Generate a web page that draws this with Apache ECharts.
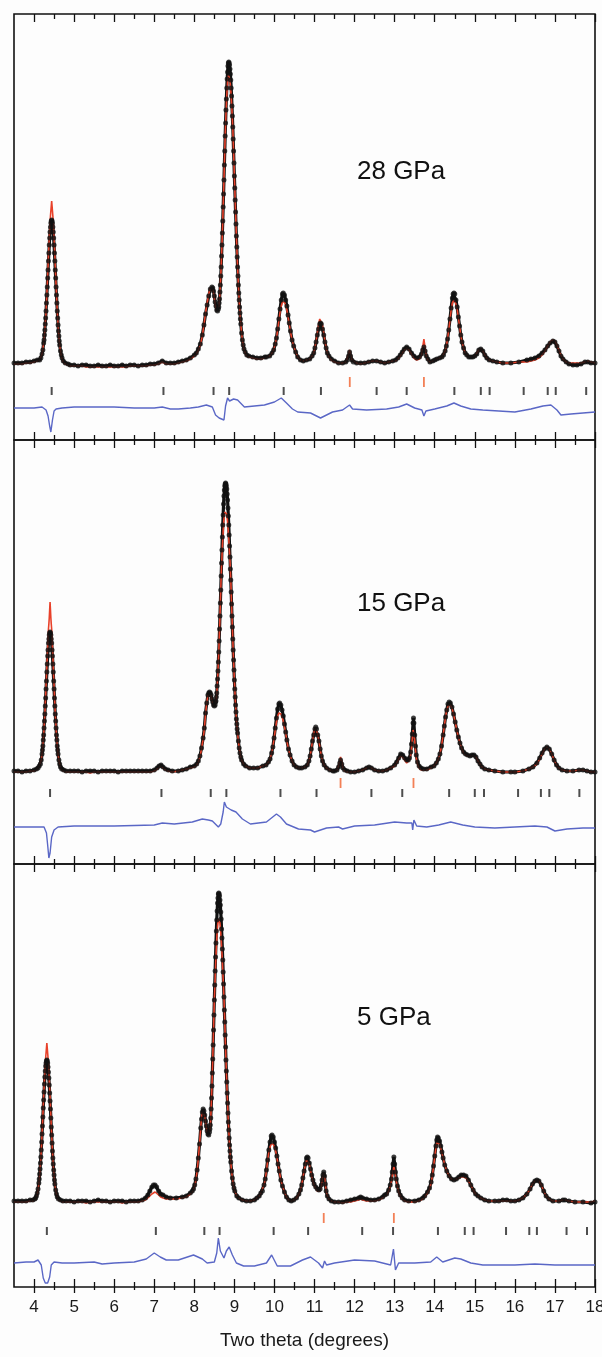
<!DOCTYPE html>
<html><head><meta charset="utf-8">
<script src="https://cdn.jsdelivr.net/npm/echarts@6/dist/echarts.min.js"></script>
<style>html,body{margin:0;padding:0;background:#fdfdfd}#c{width:602px;height:1357px}</style>
</head><body><div id="c"></div>
<script>
// ---- data: [two theta, observed, calculated] ----
const prof28 = [
[3.50,0,-1],[3.60,0,-1],[3.70,0,-1],[3.80,1,0],[3.90,1,0],[4.00,2,1],[4.08,3,2],[4.14,3,3],[4.17,5,5],[4.20,9,9],[4.22,13,13],[4.24,20,20],[4.25,23,23],[4.26,28,28],[4.27,33,33],[4.28,39,39],[4.29,45,45],[4.30,52,52],[4.31,60,60],[4.32,68,69],[4.33,76,78],[4.34,85,88],[4.35,93,97],[4.36,102,107],[4.37,110,116],[4.38,118,125],[4.39,125,133],[4.40,131,141],[4.41,136,147],[4.42,140,152],[4.43,142,157],[4.44,143,162],[4.45,142,157],[4.46,140,152],[4.47,136,147],[4.48,131,141],[4.49,125,133],[4.50,118,125],[4.51,110,116],[4.52,102,107],[4.53,93,97],[4.54,85,88],[4.55,76,78],[4.56,68,69],[4.57,60,60],[4.58,52,52],[4.59,45,45],[4.60,38,38],[4.61,32,32],[4.62,27,27],[4.63,22,22],[4.64,18,18],[4.66,12,12],[4.68,8,7],[4.70,5,4],[4.73,2,1],[4.78,0,-1],[4.85,-1,-2],
[4.9,-2,-3],[5.0,-2,-3],[5.1,-3,-3],[5.2,-2,-3],[5.3,-2,-4],[5.4,-3,-4],[5.5,-3,-4],[5.6,-2,-4],[5.7,-3,-4],[5.8,-3,-4],[5.9,-2,-4],[6.0,-3,-4],[6.1,-3,-4],[6.2,-2,-4],[6.3,-3,-4],[6.4,-2,-3],[6.5,-2,-3],[6.6,-3,-3],[6.7,-2,-3],[6.8,-2,-3],[6.9,-1,-2],[7.0,-1,-2],[7.1,0,-1],[7.2,2,1],[7.3,0,-1],[7.4,0,-1],[7.5,0,-1],
[7.60,1,0],[7.70,2,1],[7.80,3,2],[7.90,5,4],[8.00,8,7],[8.05,10,9],[8.10,14,13],[8.15,19,18],[8.20,28,27],[8.24,38,38],[8.28,49,50],[8.32,58,60],[8.36,67,69],[8.40,74,75],[8.44,76,76],[8.46,75,74],[8.48,72,71],[8.50,67,65],[8.52,61,59],[8.54,57,55],[8.56,53,52],[8.58,52,51],[8.60,54,53],[8.61,56,56],[8.62,60,60],[8.63,64,64],[8.64,71,71],[8.65,78,78],[8.66,87,87],[8.67,96,96],[8.68,107,107],[8.69,118,118],[8.70,130,130],[8.71,142,142],[8.72,156,156],[8.73,169,169],[8.74,183,183],[8.75,198,198],[8.76,212,212],[8.77,227,226],[8.78,240,238],[8.79,253,249],[8.80,264,258],[8.81,275,267],[8.82,284,274],[8.83,291,281],[8.84,297,285],[8.85,300,287],[8.86,301,288],[8.87,300,287],[8.88,298,286],[8.89,294,282],[8.90,289,278],[8.91,283,273],[8.92,275,267],[8.93,267,260],[8.94,257,252],[8.95,247,244],[8.96,236,235],[8.97,224,224],[8.98,212,212],[8.99,200,200],[9.00,187,187],[9.01,175,175],[9.02,163,163],[9.03,151,151],[9.04,139,139],[9.05,127,127],[9.06,116,116],[9.07,106,106],[9.08,96,96],[9.09,87,87],[9.10,78,78],[9.11,70,70],[9.12,63,63],[9.13,56,56],[9.14,50,50],[9.15,44,44],[9.16,39,39],[9.18,30,30],[9.20,23,23],[9.22,18,18],[9.24,14,14],[9.27,11,10],[9.31,8,7],[9.36,7,6],[9.46,6,5],[9.56,5,4],[9.66,5,4],[9.76,6,5],
[9.80,6,6],[9.88,7,7],[9.94,10,10],[9.98,13,13],[10.02,19,19],[10.05,25,25],[10.08,34,33],[10.11,44,42],[10.14,54,51],[10.17,63,57],[10.20,69,61],[10.22,70,62],[10.25,68,61],[10.28,63,58],[10.31,57,53],[10.34,48,46],[10.37,40,39],[10.40,32,31],[10.44,23,23],[10.48,17,17],[10.53,11,11],[10.58,6,6],[10.65,3,3],[10.72,2,2],[10.80,3,3],
[10.88,4,4],[10.94,7,7],[10.98,10,10],[11.01,15,15],[11.04,21,22],[11.07,28,30],[11.10,34,38],[11.13,39,44],[11.15,40,46],[11.17,39,44],[11.20,34,38],[11.23,28,30],[11.26,21,22],[11.29,15,15],[11.32,10,10],[11.36,7,6],[11.42,4,3],[11.50,2,1],[11.60,0,0],[11.70,0,0],[11.78,1,1],[11.82,3,3],[11.85,7,8],[11.875,11,13],[11.90,7,8],[11.93,3,3],[11.97,1,1],[12.05,0,0],[12.15,0,-1],[12.25,0,0],[12.35,1,1],[12.45,2,2],[12.55,2,2],[12.65,1,1],[12.75,0,0],[12.85,1,1],[12.95,2,2],
[13.02,3,2],[13.08,5,4],[13.14,8,7],[13.19,11,10],[13.24,14,13],[13.30,16,15],[13.36,14,13],[13.42,10,9],[13.48,7,5],[13.55,5,3],[13.62,6,4],[13.67,9,8],[13.70,13,16],[13.73,16,24],[13.76,12,15],[13.79,7,7],[13.83,4,3],[13.88,1,1],[13.95,2,2],[14.00,3,3],
[14.05,4,4],[14.12,5,5],[14.18,6,6],[14.22,8,8],[14.26,12,12],[14.29,17,17],[14.32,24,24],[14.35,33,33],[14.38,44,43],[14.41,55,53],[14.44,65,60],[14.46,69,62],[14.48,70,63],[14.50,69,62],[14.53,63,59],[14.56,56,54],[14.59,46,45],[14.62,37,37],[14.65,28,28],[14.68,21,21],[14.72,15,15],[14.76,10,10],[14.80,8,8],[14.85,6,6],[14.90,6,6],[14.95,6,6],[15.00,7,7],[15.05,9,10],[15.10,13,13],[15.15,14,14],[15.20,12,12],[15.25,8,8],[15.30,5,5],[15.36,3,3],[15.45,2,2],[15.55,1,1],[15.70,0,0],[15.90,0,0],[16.10,1,1],[16.30,3,1],
[16.40,4,2],[16.50,5,3],[16.60,7,5],[16.68,10,8],[16.75,13,12],[16.82,17,17],[16.88,20,21],[16.95,22,23],[17.00,21,22],[17.05,17,18],[17.10,12,13],[17.15,7,8],[17.20,4,4],[17.28,1,1],[17.35,-1,0],[17.45,-2,0],[17.55,-2,0],[17.65,-1,0],[17.75,1,1],[17.82,1,2],[17.90,0,1],[18.00,0,0]
];
const prof15 = [
[3.50,1,0],[3.60,1,0],[3.70,0,0],[3.80,1,0],[3.90,1,1],[4.00,2,1],[4.06,3,2],[4.10,4,4],[4.13,6,6],[4.16,8,8],[4.18,12,12],[4.20,18,18],[4.21,22,22],[4.22,26,26],[4.23,32,32],[4.24,37,37],[4.25,44,44],[4.26,51,51],[4.27,58,58],[4.28,66,67],[4.29,74,76],[4.30,83,87],[4.31,91,95],[4.32,100,106],[4.33,108,115],[4.34,116,125],[4.35,122,133],[4.36,129,143],[4.37,133,148],[4.38,137,154],[4.39,139,162],[4.40,140,170],[4.41,139,162],[4.42,137,154],[4.43,133,148],[4.44,129,143],[4.45,122,133],[4.46,116,125],[4.47,108,115],[4.48,100,106],[4.49,91,95],[4.50,83,87],[4.51,74,76],[4.52,66,67],[4.53,58,58],[4.54,51,51],[4.55,44,44],[4.56,37,37],[4.57,32,32],[4.58,26,26],[4.59,22,22],[4.60,18,18],[4.62,12,12],[4.64,8,8],[4.66,5,5],[4.69,3,2],[4.74,2,1],[4.80,1,0],
[4.9,1,0],[5.0,1,0],[5.1,1,0],[5.2,0,0],[5.3,1,0],[5.4,1,-1],[5.5,1,0],[5.6,0,0],[5.7,1,0],[5.8,1,0],[5.9,1,0],[6.0,1,0],[6.1,0,0],[6.2,1,0],[6.3,1,0],[6.4,1,0],[6.5,1,0],[6.6,1,0],[6.7,1,0],[6.8,1,0],[6.9,1,0],[7.00,2,1],[7.07,4,3],[7.12,6,5],[7.17,7,6],[7.22,5,4],[7.28,3,2],[7.35,2,1],[7.45,1,0],[7.60,1,1],[7.70,2,2],[7.80,3,3],
[7.90,5,4],[8.00,6,5],[8.06,8,7],[8.10,11,10],[8.14,16,15],[8.18,24,23],[8.22,34,33],[8.25,44,43],[8.28,59,58],[8.31,69,69],[8.34,77,77],[8.36,79,79],[8.38,80,80],[8.40,79,78],[8.42,77,76],[8.44,73,72],[8.46,70,69],[8.48,67,66],[8.50,66,64],[8.52,67,65],[8.53,70,68],[8.54,71,70],[8.55,75,74],[8.56,79,78],[8.57,86,85],[8.58,93,92],[8.59,101,100],[8.60,110,110],[8.61,120,120],[8.62,131,131],[8.63,143,143],[8.64,156,156],[8.65,169,169],[8.66,182,182],[8.67,196,196],[8.68,209,206],[8.69,222,215],[8.70,235,225],[8.71,247,233],[8.72,257,240],[8.73,268,248],[8.74,276,253],[8.75,282,257],[8.76,286,260],[8.77,288,261],[8.78,289,262],[8.79,288,262],[8.80,286,261],[8.81,283,258],[8.82,278,255],[8.83,272,250],[8.84,264,245],[8.85,256,239],[8.86,247,233],[8.87,237,226],[8.88,226,218],[8.89,215,211],[8.90,203,202],[8.91,192,192],[8.92,180,180],[8.93,168,168],[8.94,156,156],[8.95,145,145],[8.96,133,133],[8.97,122,122],[8.98,112,112],[8.99,102,102],[9.00,92,92],[9.01,83,83],[9.02,75,75],[9.03,67,67],[9.04,60,60],[9.05,53,53],[9.06,48,48],[9.07,43,43],[9.08,39,39],[9.10,31,31],[9.12,24,24],[9.14,19,19],[9.16,15,15],[9.18,12,12],[9.23,8,8],[9.28,6,6],[9.38,4,4],[9.48,4,4],[9.58,4,4],
[9.71,6,6],[9.79,7,7],[9.85,10,10],[9.89,13,13],[9.93,19,19],[9.96,25,25],[9.99,34,33],[10.02,44,42],[10.05,54,50],[10.08,63,56],[10.11,68,59],[10.13,69,59],[10.16,67,58],[10.19,62,55],[10.22,56,51],[10.25,48,45],[10.28,40,39],[10.31,32,31],[10.35,23,23],[10.39,17,17],[10.44,11,11],[10.49,7,7],[10.55,5,5],[10.62,4,4],
[10.68,4,4],[10.76,5,5],[10.82,7,7],[10.86,11,11],[10.89,16,16],[10.92,23,23],[10.95,31,31],[10.98,37,38],[11.01,43,45],[11.03,45,47],[11.05,43,45],[11.08,37,38],[11.11,31,31],[11.14,23,23],[11.17,16,16],[11.20,11,11],[11.24,7,7],[11.30,4,4],[11.38,2,2],[11.46,1,1],
[11.50,1,1],[11.56,2,2],[11.60,5,6],[11.63,9,11],[11.65,12,15],[11.68,8,10],[11.71,4,4],[11.75,2,1],[11.82,1,0],[11.90,0,0],[12.00,0,0],[12.10,1,1],[12.20,2,2],[12.30,4,4],[12.36,5,5],[12.42,4,4],[12.50,2,2],[12.60,1,1],[12.70,1,1],[12.80,2,2],[12.90,4,4],
[13.00,7,6],[13.05,10,9],[13.10,14,13],[13.15,18,16],[13.20,17,15],[13.25,14,12],[13.30,12,9],[13.34,12,9],[13.37,14,12],[13.40,20,17],[13.42,28,24],[13.44,38,33],[13.46,49,42],[13.47,54,44],[13.48,49,41],[13.50,37,32],[13.52,26,22],[13.54,17,14],[13.57,10,8],[13.61,6,4],[13.66,4,2],[13.72,3,2],[13.80,3,2],
[13.91,5,4],[13.98,6,6],[14.04,9,9],[14.09,13,13],[14.13,18,18],[14.17,26,26],[14.21,37,37],[14.24,46,46],[14.27,55,55],[14.30,62,62],[14.33,68,66],[14.36,70,68],[14.39,69,67],[14.43,65,64],[14.47,58,58],[14.51,50,50],[14.55,42,42],[14.59,35,35],[14.63,29,29],[14.67,24,24],[14.72,20,19],[14.77,18,17],[14.82,17,16],[14.88,16,16],[14.93,17,16],[14.98,17,16],[15.03,15,15],[15.08,11,11],[15.13,8,8],[15.18,5,5],[15.25,3,3],[15.35,2,2],[15.50,1,1],[15.70,0,0],[15.90,0,0],
[16.00,0,0],[16.20,1,1],[16.35,3,3],[16.45,5,5],[16.55,9,8],[16.62,14,13],[16.68,19,18],[16.74,23,23],[16.80,25,25],[16.86,23,23],[16.92,18,18],[16.98,12,12],[17.04,7,7],[17.10,4,4],[17.18,2,2],[17.30,1,1],[17.45,1,1],[17.60,2,2],[17.70,2,2],[17.80,1,1],[17.90,0,0],[18.00,0,0]
];
const prof5 = [
[3.50,1,0],[3.60,1,0],[3.70,1,0],[3.80,1,0],[3.90,2,1],[3.97,2,1],[4.02,3,2],[4.04,4,3],[4.06,6,5],[4.08,9,8],[4.10,13,12],[4.12,19,18],[4.13,23,22],[4.14,28,27],[4.15,33,32],[4.16,39,38],[4.17,45,44],[4.18,52,51],[4.19,60,59],[4.20,68,68],[4.21,76,76],[4.22,85,86],[4.23,94,95],[4.24,102,105],[4.25,110,113],[4.26,118,122],[4.27,125,130],[4.28,131,138],[4.29,136,144],[4.30,139,149],[4.31,141,154],[4.32,142,159],[4.33,141,154],[4.34,139,149],[4.35,135,144],[4.36,130,138],[4.37,124,130],[4.38,117,122],[4.39,109,113],[4.40,101,105],[4.41,93,95],[4.42,84,86],[4.43,75,76],[4.44,67,68],[4.45,59,59],[4.46,51,51],[4.47,44,44],[4.48,38,38],[4.49,32,32],[4.50,27,27],[4.51,22,22],[4.52,18,18],[4.54,12,12],[4.56,8,8],[4.58,5,5],[4.61,3,2],[4.66,2,1],[4.72,1,0],
[4.8,1,0],[4.9,1,0],[5.0,0,0],[5.1,1,0],[5.2,1,0],[5.3,1,-1],[5.4,0,0],[5.5,1,0],[5.6,2,0],[5.7,1,0],[5.8,1,0],[5.9,0,0],[6.0,1,0],[6.1,1,0],[6.2,1,-1],[6.3,0,0],[6.4,1,0],[6.5,1,0],
[6.60,1,0],[6.70,2,1],[6.78,4,2],[6.84,7,4],[6.89,11,6],[6.94,15,8],[6.98,17,10],[7.02,17,10],[7.06,15,9],[7.11,11,7],[7.16,8,5],[7.22,7,4],[7.30,5,3],[7.40,4,3],[7.55,4,3],[7.70,5,4],[7.80,6,5],
[7.90,9,8],[7.95,11,10],[7.98,13,12],[8.01,17,16],[8.04,23,22],[8.07,32,31],[8.10,44,43],[8.13,58,58],[8.16,74,74],[8.18,83,84],[8.20,90,90],[8.22,93,92],[8.24,91,90],[8.26,87,86],[8.28,81,80],[8.30,76,75],[8.32,71,70],[8.34,68,67],[8.36,67,66],[8.38,70,69],[8.39,73,72],[8.40,77,76],[8.41,84,84],[8.42,93,93],[8.43,104,104],[8.44,116,116],[8.45,129,129],[8.46,143,143],[8.47,157,157],[8.48,172,172],[8.49,187,187],[8.50,202,202],[8.51,217,213],[8.52,231,224],[8.53,245,235],[8.54,259,245],[8.55,271,255],[8.56,282,263],[8.57,291,270],[8.58,299,276],[8.59,304,280],[8.60,308,283],[8.61,309,284],[8.62,308,283],[8.63,306,282],[8.64,302,279],[8.65,297,275],[8.66,290,269],[8.67,283,264],[8.68,273,256],[8.69,264,249],[8.70,253,241],[8.71,242,232],[8.72,230,223],[8.73,218,214],[8.74,205,204],[8.75,192,192],[8.76,180,180],[8.77,167,167],[8.78,155,155],[8.79,142,142],[8.80,131,131],[8.81,120,120],[8.82,109,109],[8.83,99,99],[8.84,89,89],[8.85,80,80],[8.86,72,72],[8.87,64,64],[8.88,57,57],[8.89,51,51],[8.90,45,45],[8.91,40,40],[8.93,31,31],[8.95,24,24],[8.97,18,18],[8.99,14,14],[9.01,11,11],[9.06,6,6],[9.11,4,4],[9.20,2,2],[9.30,1,1],[9.40,1,1],[9.50,2,2],
[9.56,4,4],[9.62,6,6],[9.66,9,9],[9.70,11,11],[9.74,17,17],[9.77,23,23],[9.80,32,31],[9.83,42,41],[9.86,52,50],[9.89,60,55],[9.92,66,58],[9.94,67,59],[9.97,65,58],[10.00,60,55],[10.03,54,51],[10.06,46,45],[10.09,38,38],[10.12,31,31],[10.16,22,22],[10.20,16,16],[10.25,10,10],[10.30,5,5],[10.36,2,2],[10.42,1,1],
[10.48,2,2],[10.55,4,4],[10.61,8,8],[10.65,12,12],[10.68,17,17],[10.71,24,24],[10.74,31,31],[10.77,38,37],[10.80,44,42],[10.82,45,43],[10.84,44,42],[10.87,39,38],[10.90,33,32],[10.93,27,26],[10.96,22,21],[10.99,18,17],[11.03,15,14],[11.07,13,11],[11.11,12,10],[11.14,13,11],[11.17,17,16],[11.19,22,21],[11.21,27,26],[11.23,30,29],[11.25,26,25],[11.27,18,18],[11.29,11,11],[11.32,6,6],[11.36,3,3],[11.42,1,1],[11.50,0,0],
[11.60,0,0],[11.70,0,-1],[11.80,1,0],[11.90,2,0],[12.00,3,1],[12.10,4,2],[12.15,5,3],[12.20,4,2],[12.30,3,1],[12.40,2,1],[12.50,2,1],[12.60,3,2],[12.70,5,4],[12.75,7,6],
[12.80,8,7],[12.85,12,11],[12.89,17,16],[12.92,23,21],[12.94,30,26],[12.96,38,31],[12.98,45,35],[13.00,38,32],[13.02,30,27],[13.04,23,21],[13.07,16,15],[13.10,11,10],[13.14,7,6],[13.19,4,3],[13.25,2,1],[13.35,1,0],[13.50,1,0],[13.60,2,1],[13.70,4,3],
[13.75,6,5],[13.82,10,9],[13.87,14,13],[13.91,20,19],[13.94,27,26],[13.97,36,35],[14.00,46,45],[14.03,56,54],[14.05,62,59],[14.07,65,60],[14.09,64,60],[14.12,61,58],[14.15,56,54],[14.18,50,49],[14.21,44,44],[14.25,37,37],[14.30,31,31],[14.36,26,26],[14.42,23,23],[14.48,22,22],[14.54,23,23],[14.60,25,24],[14.66,27,25],[14.72,27,25],[14.78,26,24],[14.84,22,21],[14.90,17,17],[14.96,12,12],[15.02,8,8],[15.08,6,6],[15.15,4,4],[15.25,2,2],[15.35,1,1],[15.50,1,1],
[15.60,1,1],[15.70,2,1],[15.80,2,1],[15.90,1,1],[16.00,1,1],[16.10,2,2],[16.20,4,4],[16.30,8,8],[16.38,13,13],[16.44,18,18],[16.50,21,21],[16.55,22,22],[16.60,21,21],[16.66,17,17],[16.72,11,11],[16.78,6,6],[16.85,3,3],[16.95,1,1],[17.10,1,1],[17.20,2,2],[17.25,2,2],[17.35,1,1],[17.50,0,0],[17.70,0,0],[17.90,-1,0],[18.00,0,1]
];
// difference curves (obs - calc)
const diff28 = [[3.5,2],[4.0,2],[4.2,3],[4.3,0],[4.35,-6],[4.39,-16],[4.42,-22],[4.46,-10],[4.50,-1],[4.55,1],[4.7,2],[5.0,3],[5.5,3],[6.0,3],[6.5,2],[7.0,2],[7.2,3],[7.4,1],[7.6,1],[7.9,2],[8.1,3],[8.3,5],[8.45,3],[8.53,-5],[8.62,-8],[8.74,-10],[8.78,4],[8.83,12],[8.88,9],[8.92,8],[8.98,11],[9.08,10],[9.25,3],[9.5,4],[9.75,5],[10.0,8],[10.17,12],[10.3,7],[10.45,1],[10.58,-2],[10.9,-3],[11.0,-5],[11.15,-8],[11.3,-5],[11.45,-2],[11.7,0],[11.875,5],[11.95,1],[12.3,0],[12.8,1],[13.1,3],[13.3,6],[13.5,2],[13.68,0],[13.73,-6],[13.78,-1],[14.0,1],[14.3,4],[14.48,7],[14.65,4],[14.9,1],[15.2,0],[15.6,-1],[16.0,-2],[16.4,1],[16.7,4],[16.9,5],[17.05,0],[17.15,-5],[17.4,-4],[17.7,-3],[18.0,-2]];
const diff15 = [[3.5,0],[4.0,0],[4.25,0],[4.31,-6],[4.34,-18],[4.37,-31],[4.40,-26],[4.44,-10],[4.50,-3],[4.6,0],[5.0,1],[6.0,1],[7.0,2],[7.2,4],[7.5,3],[7.95,5],[8.2,8],[8.35,7],[8.45,6],[8.6,0],[8.66,3],[8.72,15],[8.75,25],[8.8,20],[8.92,17],[9.04,15],[9.2,8],[9.4,3],[9.8,5],[10.05,13],[10.15,10],[10.3,3],[10.6,-2],[10.9,-3],[11.0,-5],[11.15,-3],[11.3,-1],[11.6,0],[11.7,-2],[12.0,1],[12.5,2],[13.0,5],[13.3,4],[13.43,4],[13.45,-3],[13.48,7],[13.55,1],[13.8,0],[14.1,2],[14.4,5],[14.7,2],[15.0,0],[15.5,-1],[16.0,0],[16.5,1],[16.8,0],[17.0,-4],[17.3,-2],[17.7,-1],[18.0,-1]];
const diff5 = [[3.5,0],[3.8,1],[4.0,1],[4.1,3],[4.18,-2],[4.23,-15],[4.28,-20],[4.34,-20],[4.39,-14],[4.43,-2],[4.5,1],[4.7,0],[5.0,0],[5.5,1],[5.7,-1],[6.0,0],[6.5,1],[6.8,4],[7.0,10],[7.15,6],[7.3,3],[7.6,3],[7.98,8],[8.2,4],[8.32,0],[8.5,1],[8.56,10],[8.6,25],[8.65,12],[8.74,5],[8.8,12],[8.87,16],[8.95,8],[9.05,0],[9.23,-3],[9.5,-3],[9.8,0],[9.93,8],[10.07,-3],[10.4,-3],[10.7,3],[10.9,6],[11.1,0],[11.2,-5],[11.25,2],[11.3,-2],[11.5,0],[12.0,3],[12.5,2],[12.9,-2],[12.97,14],[13.02,-7],[13.1,0],[13.5,0],[13.9,1],[14.05,6],[14.2,1],[14.5,5],[14.65,4],[14.9,0],[15.2,-2],[16.0,-2],[16.5,-1],[17.0,-2],[17.5,-2],[18.0,-2]];
// reflection positions: main phase (black) and second phase (red)
const refl28 = [4.44,7.23,8.48,8.87,10.23,11.16,12.55,13.30,14.49,15.15,15.37,16.22,16.82,17.02,17.78];
const imp28 = [11.88,13.73];
const refl15 = [4.40,7.18,8.41,8.80,10.15,11.05,12.42,13.19,14.36,15.00,15.23,16.08,16.65,16.86,17.61];
const imp15 = [11.65,13.47];
const refl5 = [4.32,7.04,8.25,8.63,9.98,10.84,12.19,12.96,14.08,14.75,14.97,15.78,16.36,16.55,17.29,17.80];
const imp5 = [11.23,12.98];
const xMajor = [4,5,6,7,8,9,10,11,12,13,14,15,16,17,18];
const xMinor = [4.5,5.5,6.5,7.5,8.5,9.5,10.5,11.5,12.5,13.5,14.5,15.5,16.5,17.5];
const labels = ['28 GPa','15 GPa','5 GPa'];

// ---- layout ----
const panels = [
  {prof:prof28, diff:diff28, refl:refl28, imp:imp28, top:14,  bottom:440,  base:363,  dz:410,  tb:391,  tr:382,  ty:172},
  {prof:prof15, diff:diff15, refl:refl15, imp:imp15, top:440, bottom:864,  base:772,  dz:827,  tb:793,  tr:783,  ty:604},
  {prof:prof5,  diff:diff5,  refl:refl5,  imp:imp5,  top:864, bottom:1287, base:1202, dz:1263, tb:1231, tr:1218, ty:1018}
];
const LEFT = 14, RIGHT = 595, WIDTH = 602;
const FONT = '"Liberation Sans", Arial, Helvetica, sans-serif';
const grid = [], xAxis = [], yAxis = [], series = [], graphic = [];
function tickAxis(gi, pos, vals, len, inside) {
  return {type:'value', gridIndex:gi, position:pos, min:3.5, max:18,
    axisLine:{show:false, onZero:false}, splitLine:{show:false}, axisLabel:{show:false},
    axisTick:{show:true, inside:inside, length:len, customValues:vals, lineStyle:{color:'#111', width:1.3}}};
}
panels.forEach((p, i) => {
  const H = p.bottom - p.top;
  grid.push({left:LEFT, width:RIGHT-LEFT, top:p.top, height:H, show:true, borderColor:'#111', borderWidth:1.6,
    backgroundColor:'transparent', containLabel:false, outerBoundsMode:'none'});
  xAxis.push(tickAxis(i,'bottom',xMajor,8,true), tickAxis(i,'bottom',xMinor,5,true),
             tickAxis(i,'top',xMajor,8,true), tickAxis(i,'top',xMinor,5,true));
  [p.base, p.dz, p.tb, p.tr].forEach(py => {
    const mn = -(p.bottom - py);
    yAxis.push({type:'value', gridIndex:i, show:false, min:mn, max:mn + H, axisLine:{onZero:false}});
  });
  const xi = i*4, yi = i*4;
  const obs = p.prof.map(r => [r[0], r[1]]);
  const calc = p.prof.map(r => [r[0], r[2]]);
  series.push(
    {type:'line', xAxisIndex:xi, yAxisIndex:yi, data:obs, showSymbol:false, lineStyle:{color:'#111', width:3.2}, z:2, silent:true},
    {type:'line', xAxisIndex:xi, yAxisIndex:yi, data:calc, showSymbol:false, lineStyle:{color:'#e8412a', width:1.6}, z:3, silent:true},
    {type:'scatter', xAxisIndex:xi, yAxisIndex:yi, data:obs, symbol:'circle', symbolSize:5, itemStyle:{color:'#111'}, z:4, silent:true},
    {type:'line', xAxisIndex:xi, yAxisIndex:yi+1, data:p.diff, showSymbol:false, lineStyle:{color:'#5a67c6', width:1.4}, z:3, silent:true},
    {type:'scatter', xAxisIndex:xi, yAxisIndex:yi+2, data:p.refl.map(v => [v, 0]), symbol:'rect', symbolSize:[2,8], itemStyle:{color:'#222'}, z:3, silent:true},
    {type:'scatter', xAxisIndex:xi, yAxisIndex:yi+3, data:p.imp.map(v => [v, 0]), symbol:'rect', symbolSize:[1.8,10], itemStyle:{color:'#f0602c'}, z:3, silent:true}
  );
  graphic.push({type:'text', x:357, y:p.ty, style:{text:labels[i], fontSize:26, fontFamily:FONT, fill:'#111', align:'left', verticalAlign:'middle'}});
});
// bottom labelled axis with outward ticks
xAxis.push({type:'value', gridIndex:2, position:'bottom', min:3.5, max:18,
  axisLine:{show:false, onZero:false}, splitLine:{show:false},
  axisTick:{show:true, inside:false, length:6, customValues:xMajor, lineStyle:{color:'#111', width:1.3}},
  axisLabel:{show:true, customValues:xMajor, fontSize:17, color:'#1a1a1a', margin:12, fontFamily:FONT},
  name:'Two theta (degrees)', nameLocation:'middle', nameGap:44, nameTextStyle:{fontSize:19, color:'#1a1a1a', fontFamily:FONT}});
xAxis.push(tickAxis(2,'bottom',xMinor,3,false));

const chart = echarts.init(document.getElementById('c'), null, {renderer:'canvas'});
chart.setOption({backgroundColor:'#fdfdfd', animation:false, grid, xAxis, yAxis, series, graphic});
</script></body></html>
